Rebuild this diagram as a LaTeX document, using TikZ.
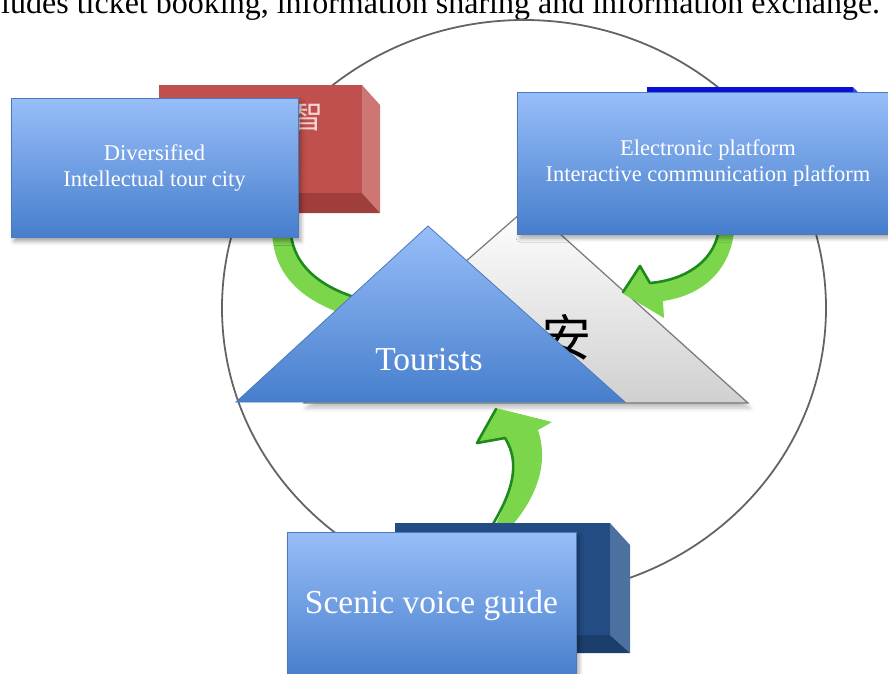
\documentclass[tikz,border=0pt]{standalone}
\usepackage{fontspec}
\setmainfont{Liberation Serif}
\newfontfamily\cjkfont{Noto Sans CJK SC}
\usetikzlibrary{shadows.blur}

\definecolor{boxtop}{RGB}{152,190,249}
\definecolor{boxbot}{RGB}{70,126,204}
\definecolor{boxedge}{RGB}{74,122,188}
\definecolor{ringgray}{RGB}{100,100,100}
\definecolor{redfront}{RGB}{192,80,77}
\definecolor{redside}{RGB}{206,118,115}
\definecolor{redbottom}{RGB}{160,62,59}
\definecolor{redglyph}{RGB}{246,214,212}
\definecolor{vividblue}{RGB}{10,16,214}
\definecolor{vividside}{RGB}{60,66,226}
\definecolor{navyfront}{RGB}{35,76,132}
\definecolor{navyside}{RGB}{76,112,160}
\definecolor{navybottom}{RGB}{27,62,108}
\definecolor{grayedge}{RGB}{120,120,120}
\definecolor{graybot}{RGB}{208,208,208}
\definecolor{arrowgreen}{RGB}{124,214,76}
\definecolor{arrowdark}{RGB}{30,138,30}

\tikzset{
  infobox/.style={draw=boxedge, line width=0.8, top color=boxtop, bottom color=boxbot,
    text=white, align=center, inner sep=0,
    blur shadow={shadow xshift=3pt, shadow yshift=-4pt, shadow blur radius=4pt, shadow opacity=35}},
  smalltext/.style={font=\fontsize{22.5}{26}\selectfont},
  bigtext/.style={font=\fontsize{33.5}{38}\selectfont},
  arrowbody/.style={fill=arrowgreen},
  arrowedge/.style={draw=arrowdark, line width=2.6, line cap=round, line join=round},
}

\begin{document}
\begin{tikzpicture}[x=1pt,y=-1pt]
\useasboundingbox (0,0) rectangle (888,673);

% running text line above the figure
\node[anchor=base west, inner sep=0, font=\fontsize{32}{36}\selectfont] (caption) at (1,13.5)
  {ludes ticket booking, information sharing and information exchange.};

% surrounding ring
\draw[ringgray, line width=1.8] (524,308) ellipse [x radius=302, y radius=288];

% red block behind the upper-left box
\fill[redfront] (159,85) rectangle (362,193);
\fill[redside] (362,85) -- (380,105) -- (380,213) -- (362,193) -- cycle;
\fill[redbottom] (159,193) -- (362,193) -- (380,213) -- (177,213) -- cycle;
\node[font=\cjkfont\fontsize{32}{32}\selectfont, text=redglyph, inner sep=0] (zhi) at (307,116) {智};

% blue block behind the upper-right box
\fill[vividblue] (647,87) rectangle (853,200);
\fill[vividside] (853,87) -- (870,105) -- (870,215) -- (853,200) -- cycle;

% navy block behind the bottom box
\fill[navyfront] (395,523) rectangle (610,635);
\fill[navyside] (610,523) -- (630,545) -- (630,653) -- (610,635) -- cycle;
\fill[navybottom] (395,635) -- (610,635) -- (630,653) -- (415,653) -- cycle;

% grey triangle behind the tourists
\coordinate (gApex) at (529,206);
\coordinate (gLeft) at (304,403);
\coordinate (gRight) at (748,403);
\path[draw=grayedge, line width=1.2, top color=white, bottom color=graybot,
  blur shadow={shadow xshift=2pt, shadow yshift=-5pt, shadow blur radius=4pt, shadow opacity=25}]
  (gApex) -- (gRight) -- (gLeft) -- cycle;
\node[font=\cjkfont\fontsize{50}{50}\selectfont, inner sep=0] (an) at (566,337) {安};

% green curved arrows
% from the upper-left box
\path[arrowbody] (272,232) .. controls (274,275) and (300,305) .. (370,322)
  -- (372,302) .. controls (320,290) and (294,265) .. (291,232) -- cycle;
\draw[arrowedge] (291,234) .. controls (294,265) and (320,290) .. (372,302);
% from the upper-right box
\path[arrowbody] (718,232) .. controls (712,262) and (685,280) .. (650,283)
  -- (640,266) -- (622,293) -- (664,318) -- (663,301)
  .. controls (705,295) and (730,268) .. (734,232) -- cycle;
\draw[arrowedge] (718,234) .. controls (712,262) and (685,280) .. (650,283)
  -- (640,266) -- (623,292);
% from the bottom box
\path[arrowbody] (493,530) .. controls (510,495) and (522,465) .. (505,438)
  -- (476,443) -- (496,408) -- (552,422) -- (538,430)
  .. controls (548,460) and (540,495) .. (508,530) -- cycle;
\draw[arrowedge] (493,524) .. controls (510,495) and (522,465) .. (505,438)
  -- (477,443) -- (496,409);
% redraw the navy front so the arrow starts at its top edge
\fill[navyfront] (395,523) rectangle (610,635);

% tourists triangle
\coordinate (tApex) at (428,226);
\coordinate (tLeft) at (236,402);
\coordinate (tRight) at (625,402);
\path[draw=boxedge, line width=0.8, top color=boxtop, bottom color=boxbot]
  (tApex) -- (tRight) -- (tLeft) -- cycle;
\node[bigtext, text=white, anchor=base, inner sep=0] (tourists) at (429,370) {Tourists};

% the three information boxes
\node[infobox, smalltext, minimum width=287, minimum height=139] (diverse) at (154.5,168)
  {Diversified\\Intellectual tour city};
\node[infobox, smalltext, minimum width=382, minimum height=142] (platform) at (708,163)
  {Electronic platform\\Interactive communication platform};
\node[infobox, bigtext, minimum width=289, minimum height=146] (voice) at (431.5,605)
  {Scenic voice guide};
\end{tikzpicture}
\end{document}
